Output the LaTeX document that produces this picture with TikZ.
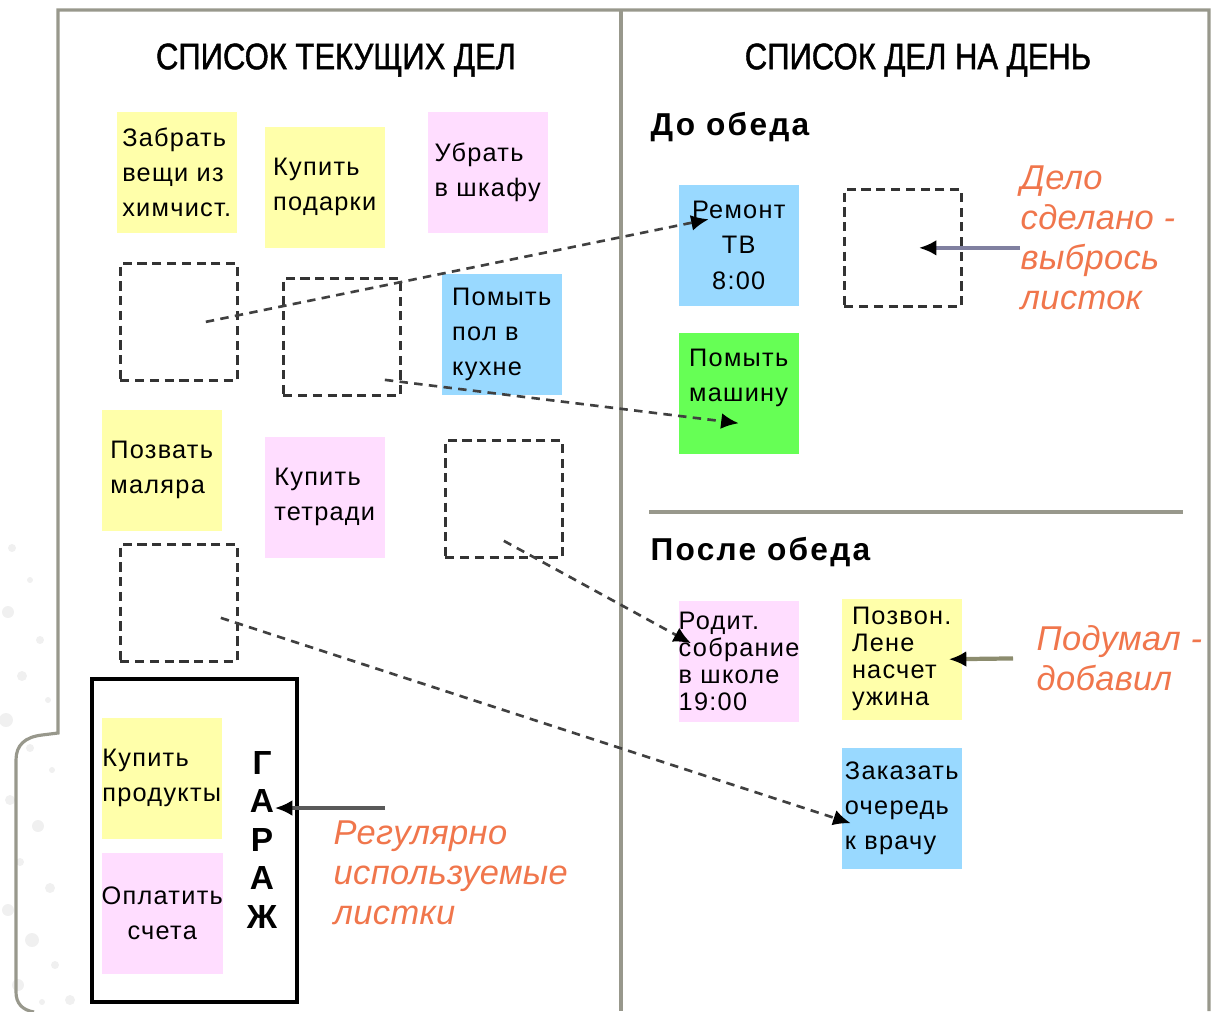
\documentclass[tikz,border=0pt]{standalone}
\usepackage{fontspec}
\setmainfont{Liberation Sans}
\newfontfamily\headfont[FakeStretch=0.84, FakeBold=1.2]{Liberation Sans}
\newfontfamily\notefont[LetterSpace=5]{Liberation Sans}
\newfontfamily\partfont[LetterSpace=7]{Liberation Sans}
\newfontfamily\remarkfont[LetterSpace=1]{Liberation Sans}
\usetikzlibrary{positioning, arrows.meta}
\definecolor{noteyellow}{RGB}{255,255,170}
\definecolor{notepink}{RGB}{255,221,255}
\definecolor{noteblue}{RGB}{153,217,255}
\definecolor{notegreen}{RGB}{102,255,85}
\definecolor{remarkorange}{RGB}{240,118,76}
\definecolor{framegray}{RGB}{152,152,140}
\definecolor{hintblue}{RGB}{128,128,160}
\definecolor{hintolive}{RGB}{140,140,110}

\begin{document}
\begin{tikzpicture}[x=0.01cm, y=-0.01cm,
        note/.style={rectangle, anchor=north west, minimum width=1.2cm, minimum height=1.21cm, inner sep=0pt, align=left, font=\notefont\fontsize{7.2}{10}\selectfont},
        tight/.style={font=\notefont\fontsize{7.2}{7.7}\selectfont},
        slot/.style={rectangle, anchor=north west, draw=black!80, line width=0.75pt, dash pattern=on 2.6pt off 1.6pt, minimum width=1.17cm, minimum height=1.17cm},
        move/.style={draw=black!75, line width=0.75pt, dash pattern=on 2.4pt off 1.8pt, -{Latex[length=5pt,width=4.5pt,color=black]}},
        hint/.style={line width=1.2pt, -{Latex[length=5pt,width=4.5pt,color=black]}},
        remark/.style={anchor=north west, align=left, inner sep=0pt, text=remarkorange, font=\remarkfont\itshape\fontsize{9.8}{11.4}\selectfont},
        heading/.style={font=\headfont\fontsize{10.5}{12}\selectfont},
        part/.style={anchor=west, inner sep=0pt, font=\partfont\bfseries\fontsize{9}{11}\selectfont},
        garageletter/.style={inner sep=0pt, font=\bfseries\fontsize{9.5}{11}\selectfont}
    ]
        \useasboundingbox (0,0) rectangle (1212,1011);
        \foreach \px/\py/\r in {12/548/4, 30/580/3, 8/612/6, 40/640/4, 22/676/5, 48/700/3, 6/720/7, 30/748/4, 52/770/3, 10/800/5, 38/826/6, 20/862/4, 50/888/5, 8/910/6, 32/940/7, 55/965/4, 18/985/6, 70/1000/5, 42/1002/3}
            \fill[gray!12] (\px,\py) circle (\r);

        \draw[framegray, line width=0.9pt] (1209,1011) -- (1209,10) -- (58,10) -- (58,733) -- (42,735) .. controls (25,737) and (16,745) .. (16,760) -- (16,992) .. controls (16,1003) and (22,1010) .. (34,1012);
        \draw[framegray, line width=0.9pt] (621,10) -- (621,1011);

        \node[heading] (current) at (336,60) {СПИСОК ТЕКУЩИХ ДЕЛ};
        \node[heading] (daily) at (918,60) {СПИСОК ДЕЛ НА ДЕНЬ};

        \node[note, fill=noteyellow] (pickup) at (116,111) {Забрать\\вещи из\\химчист.};
        \node[note, fill=noteyellow] (gifts) at (264,126) {Купить\\подарки};
        \node[note, fill=notepink] (closet) at (427,111) {Убрать\\в шкафу};
        \node[slot] (gap1) at (119,262) {};
        \node[slot] (gap2) at (282,277) {};
        \node[note, fill=noteblue] (floor) at (441,273) {Помыть\\пол в\\кухне};
        \node[note, fill=noteyellow] (painter) at (101,409) {Позвать\\маляра};
        \node[note, fill=notepink] (books) at (264,436) {Купить\\тетради};
        \node[slot] (gap3) at (444,439) {};
        \node[slot] (gap4) at (119,543) {};

        \node[draw, line width=1.1pt, anchor=north west, minimum width=2.05cm, minimum height=3.23cm] (garage) at (90,677) {};
        \node[note, fill=noteyellow] (food) at (101,717) {Купить\\продукты};
        \node[note, fill=notepink, align=center] (bills) at (101,852) {Оплатить\\счета};
        \foreach \ch [count=\i] in {Г,А,Р,А,Ж}
            \node[garageletter] (g\i) at (262,724+38.5*\i) {\ch};
        \node[remark] (regular) at (333,820) {Регулярно\\используемые\\листки};
        \coordinate (regtail) at (385,808);

        \node[part] (before) at (650,127) {До обеда};
        \node[note, fill=noteblue, align=center] (tv) at (678,184) {Ремонт\\ТВ\\8:00};
        \node[note, fill=notegreen] (car) at (678,332) {Помыть\\машину\\\mbox{}};
        \node[slot] (gap5) at (843,188) {};
        \node[remark] (done) at (1020,165) {Дело\\сделано -\\выбрось\\листок};

        \draw[framegray, line width=0.9pt] (649,512) -- (1183,512);

        \node[part] (after) at (650,552) {После обеда};
        \node[note, fill=notepink, tight] (meeting) at (678,600) {Родит.\\собрание\\в школе\\19:00};
        \node[note, fill=noteyellow, tight] (call) at (841,598) {Позвон.\\Лене\\насчет\\ужина};
        \node[note, fill=noteblue] (doctor) at (841,747) {Заказать\\очередь\\к врачу};
        \node[remark] (thought) at (1036,625) {Подумал -\\добавил};

        \draw[move] ([shift={(27,0)}]gap1.center) -- ([shift={(-30,-26)}]tv.center);
        \draw[move] ([shift={(43,43)}]gap2.center) -- ([shift={(0,30)}]car.center);
        \draw[move] ([shift={(0,42)}]gap3.center) -- ([shift={(-48,-18)}]meeting.center);
        \draw[move] ([shift={(42,15)}]gap4.center) -- ([shift={(-51,15)}]doctor.center);

        \draw[hint, draw=hintblue] (done.west |- gap5.center) -- ([shift={(16,0)}]gap5.center);
        \draw[hint, draw=hintolive] ([shift={(-23,0)}]thought.west) -- ([shift={(47,0)}]call.center);
        \draw[hint, draw=black!65] (regtail) -- (g2.east |- regtail);
    \end{tikzpicture}
\end{document}
